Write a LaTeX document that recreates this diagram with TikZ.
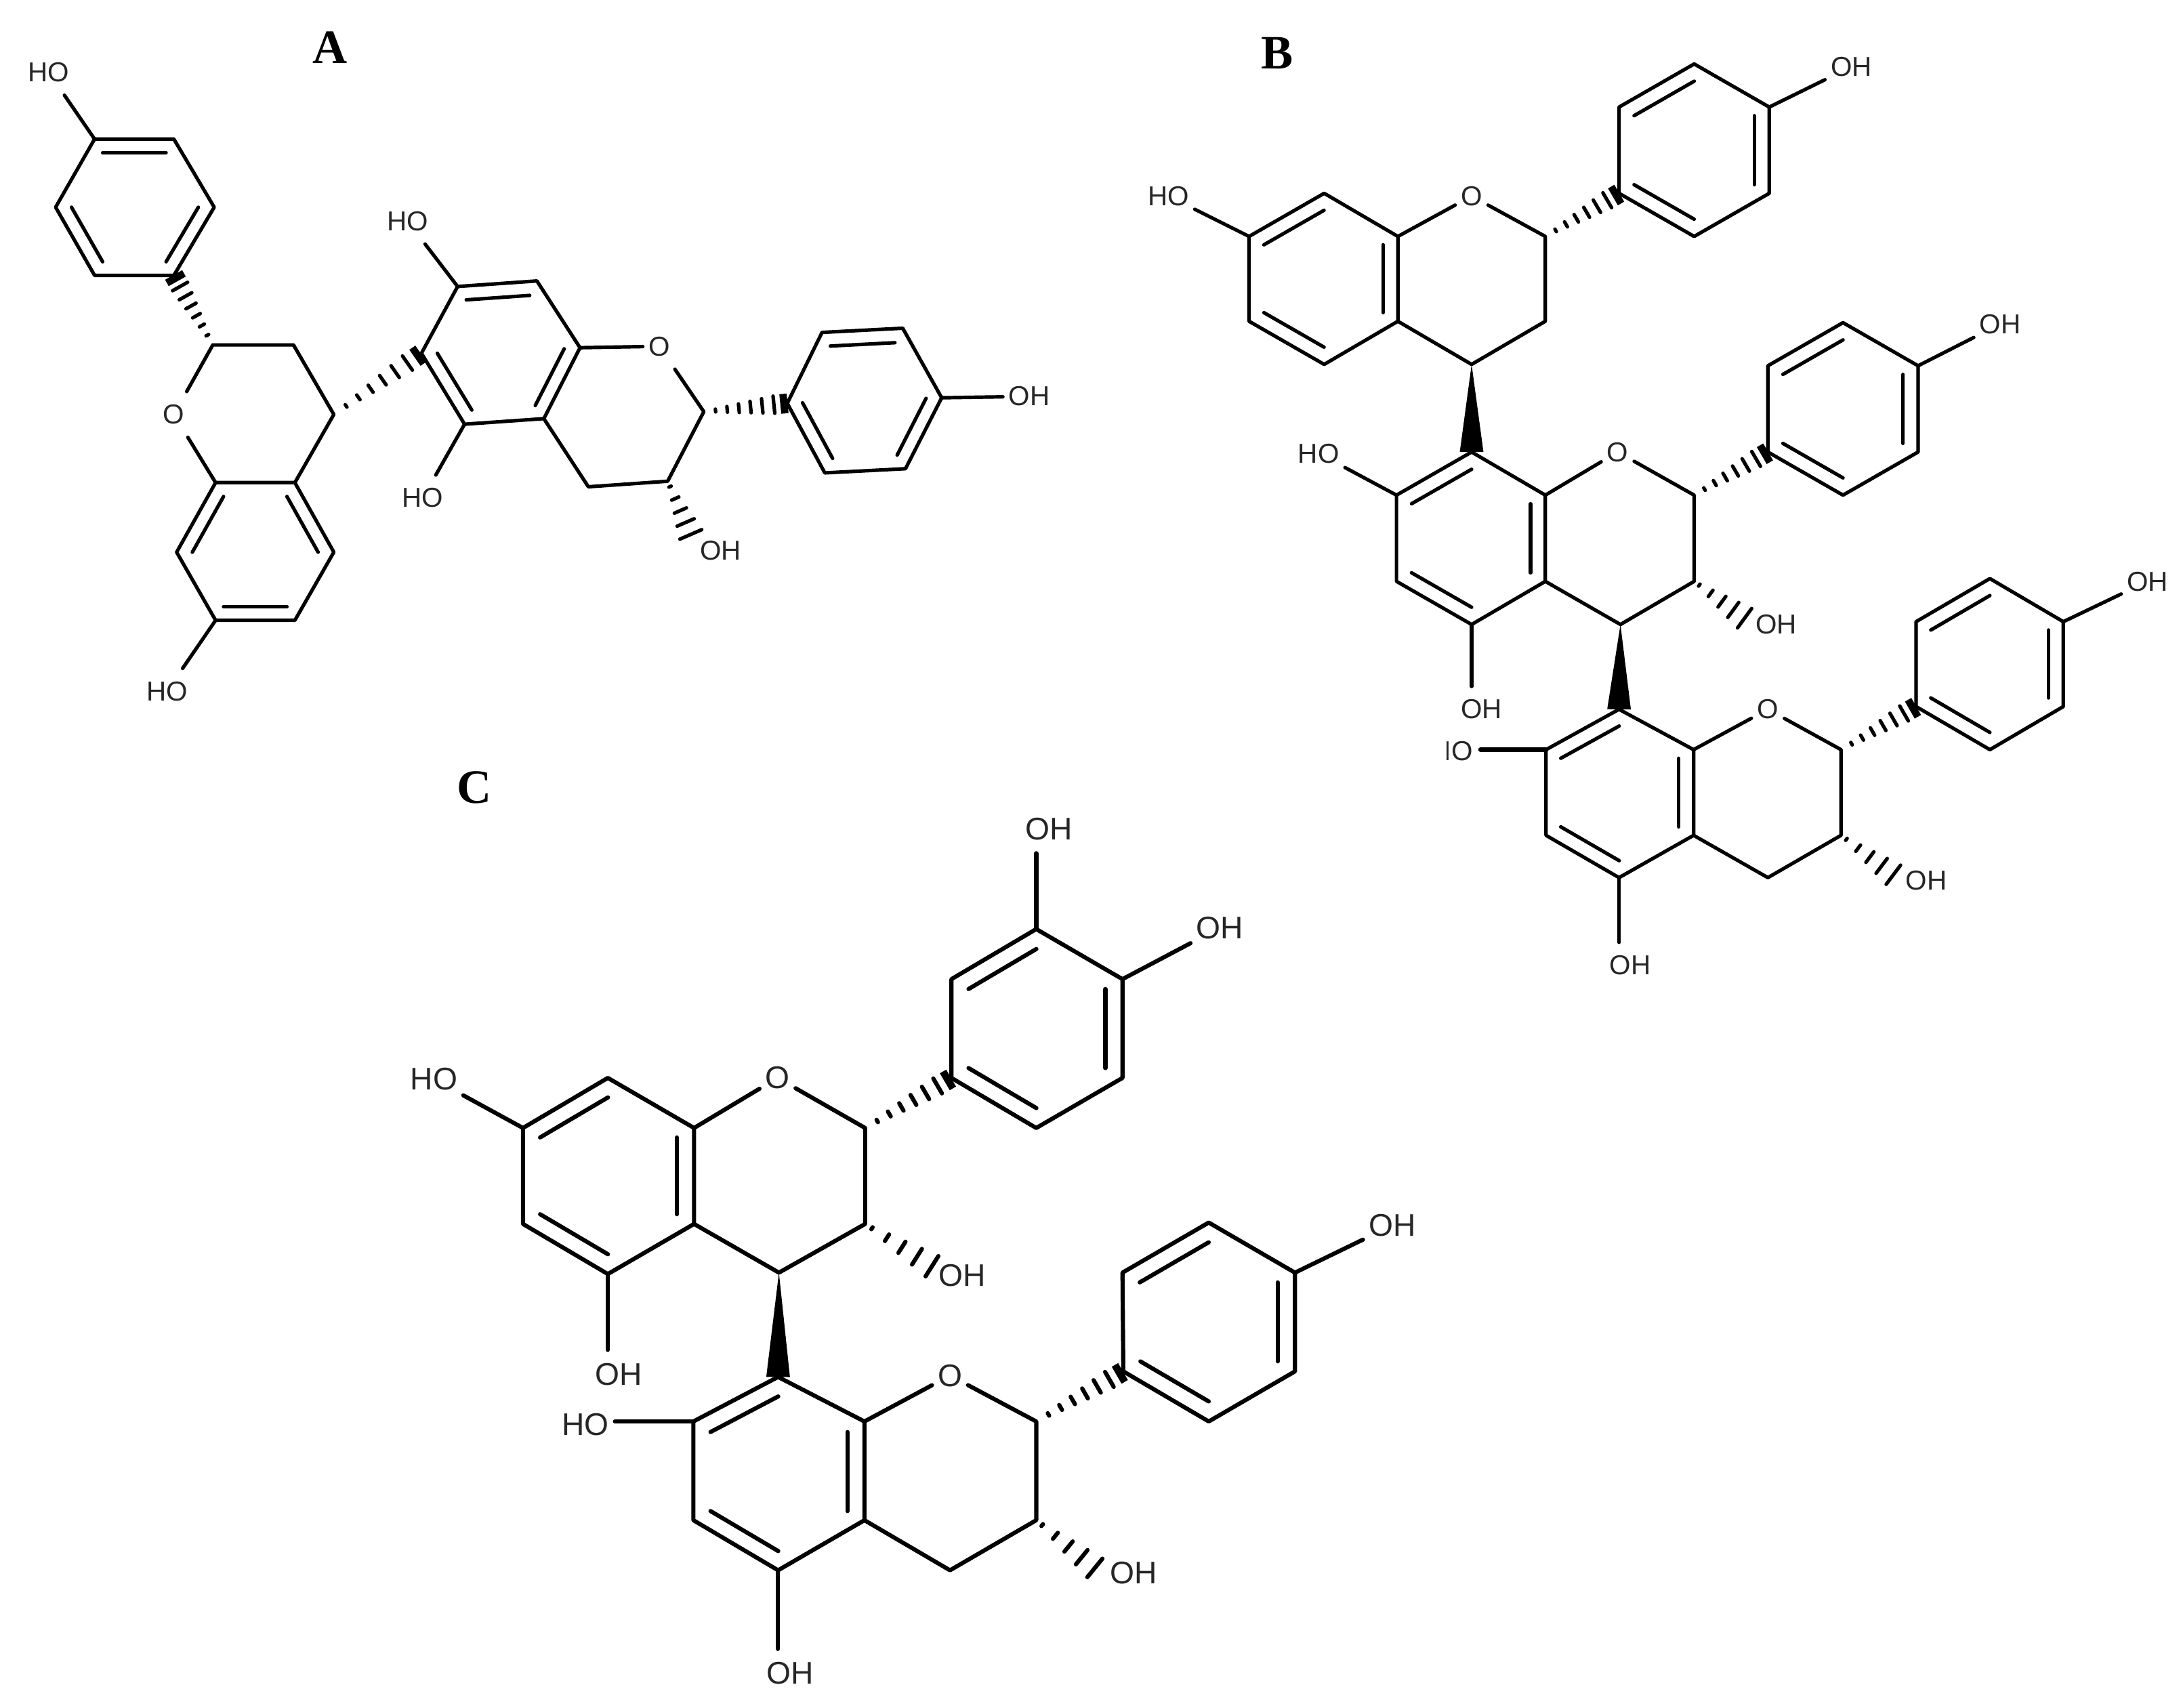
\documentclass[tikz,border=0pt]{standalone}
\usepackage{fontspec}
\setmainfont{Liberation Serif}
\setsansfont{Liberation Sans}
\usetikzlibrary{calc}

\newcommand{\dblbond}[3]{\draw[bond] ($(#1)!0.2!(#3)$) -- ($(#2)!0.2!(#3)$);}
\newcommand{\wedgebond}[2]{\fill ($(#1)$) -- ($(#2)!0.085cm!90:(#1)$) -- ($(#2)!0.085cm!-90:(#1)$) -- cycle;}
\newcommand{\hashbond}[2]{
\foreach \hpos in {0.14,0.28,0.42,0.56,0.7,0.84}{
\pgfmathsetmacro{\hw}{\hpos*2.1}
\draw[bond] ($(#1)!\hpos!(#2)!\hw pt!90:(#1)$) -- ($(#1)!\hpos!(#2)!\hw pt!-90:(#1)$);
}
\draw[line width=1.5pt] ($(#1)!0.96!(#2)!2pt!90:(#1)$) -- ($(#1)!0.96!(#2)!2pt!-90:(#1)$);
}
\newcommand{\hashoh}[2]{
\foreach \hpos in {0.1,0.32,0.54,0.76,0.98}{
\pgfmathsetmacro{\hw}{\hpos*2.5}
\draw[bond] ($(#1)!\hpos!(#2)!\hw pt!90:(#1)$) -- ($(#1)!\hpos!(#2)!\hw pt!-90:(#1)$);
}
}

\begin{document}
\begin{tikzpicture}[x=0.01cm,y=-0.01cm]
\tikzstyle{bond}=[line width=0.72pt,line join=round,line cap=round]
\tikzstyle{atom}=[font=\fontsize{5.6}{6}\selectfont\sffamily,text=black!85,inner xsep=1pt,inner ysep=2.5pt]
\tikzstyle{panel}=[font=\fontsize{9.8}{12}\selectfont\rmfamily\bfseries,inner sep=0pt]
\useasboundingbox (0,0) rectangle (1568,1228);

\node[panel] (panela) at (237,34) {A};
\node[panel] (panelb) at (918,38) {B};
\node[panel] (panelc) at (341,566) {C};

% molecule A
\coordinate (pa1) at (68,100);
\coordinate (pa2) at (125,100);
\coordinate (pa3) at (154,149);
\coordinate (pa4) at (125,198);
\coordinate (pa5) at (68,198);
\coordinate (pa6) at (40,149);
\coordinate (cpa) at (97,149);
\coordinate (ca1) at (153,248);
\coordinate (ca2) at (211,248);
\coordinate (ca3) at (240,298);
\coordinate (ca4) at (212,347);
\coordinate (ca5) at (155,347);
\coordinate (aa1) at (240,397);
\coordinate (aa2) at (212,446);
\coordinate (aa3) at (155,446);
\coordinate (aa4) at (127,397);
\coordinate (caa) at (183.5,397);
\coordinate (da1) at (329,206);
\coordinate (da2) at (386,202);
\coordinate (da3) at (417,250);
\coordinate (da4) at (391,301);
\coordinate (da5) at (334,305);
\coordinate (da6) at (303,254);
\coordinate (cda) at (360,254);
\coordinate (ea1) at (506,296);
\coordinate (ea2) at (480,346);
\coordinate (ea3) at (423,350);
\coordinate (qa1) at (566,290);
\coordinate (qa2) at (593,340);
\coordinate (qa3) at (651,337);
\coordinate (qa4) at (677,286);
\coordinate (qa5) at (649,236);
\coordinate (qa6) at (591,239);
\coordinate (cqa) at (621,288);
\coordinate (xa) at (497,385);
\node[atom] (oa1) at (125,298) {O};
\node[atom] (oa2) at (474,249) {O};
\node[atom] (hoa1) at (35,52) {HO};
\node[atom] (hoa2) at (120,497) {HO};
\node[atom] (hoa3) at (293,159) {HO};
\node[atom] (hoa4) at (304,358) {HO};
\node[atom] (oha1) at (740,285) {OH};
\node[atom] (oha2) at (518,396) {OH};

\draw[bond] (pa1) -- (pa2) -- (pa3) -- (pa4) -- (pa5) -- (pa6) -- cycle;
\draw[bond] (ca1) -- (ca2) -- (ca3) -- (ca4) -- (ca5) -- (oa1) -- (ca1);
\draw[bond] (ca4) -- (aa1) -- (aa2) -- (aa3) -- (aa4) -- (ca5);
\draw[bond] (da1) -- (da2) -- (da3) -- (da4) -- (da5) -- (da6) -- cycle;
\draw[bond] (da3) -- (oa2) -- (ea1) -- (ea2) -- (ea3) -- (da4);
\draw[bond] (qa1) -- (qa2) -- (qa3) -- (qa4) -- (qa5) -- (qa6) -- cycle;
\draw[bond] (pa1) -- (hoa1);
\draw[bond] (aa3) -- (hoa2);
\draw[bond] (da1) -- (hoa3);
\draw[bond] (da5) -- (hoa4);
\draw[bond] (qa4) -- (oha1);
\dblbond{pa1}{pa2}{cpa}
\dblbond{pa3}{pa4}{cpa}
\dblbond{pa5}{pa6}{cpa}
\dblbond{ca4}{aa1}{caa}
\dblbond{aa2}{aa3}{caa}
\dblbond{aa4}{ca5}{caa}
\dblbond{da1}{da2}{cda}
\dblbond{da3}{da4}{cda}
\dblbond{da5}{da6}{cda}
\dblbond{qa1}{qa2}{cqa}
\dblbond{qa3}{qa4}{cqa}
\dblbond{qa5}{qa6}{cqa}
\hashbond{ca1}{pa4}
\hashbond{ca3}{da6}
\hashbond{ea1}{qa1}
\hashoh{ea2}{xa}

% molecule B
\coordinate (pb1) at (1164,139);
\coordinate (pb2) at (1164,77);
\coordinate (pb3) at (1218,46);
\coordinate (pb4) at (1272,77);
\coordinate (pb5) at (1272,139);
\coordinate (pb6) at (1218,170);
\coordinate (cpb) at (1218,108);
\coordinate (bb1) at (898,170);
\coordinate (bb2) at (952,139);
\coordinate (bb3) at (1005,170);
\coordinate (bb4) at (1005,231);
\coordinate (bb5) at (952,262);
\coordinate (bb6) at (898,231);
\coordinate (cbb) at (951.5,200);
\coordinate (cb1) at (1111,170);
\coordinate (cb2) at (1111,231);
\coordinate (cb3) at (1058,262);
\coordinate (db1) at (1058,325);
\coordinate (db2) at (1111,356);
\coordinate (db3) at (1111,418);
\coordinate (db4) at (1058,449);
\coordinate (db5) at (1004,418);
\coordinate (db6) at (1004,356);
\coordinate (cdb) at (1058,387);
\coordinate (eb1) at (1218,356);
\coordinate (eb2) at (1218,418);
\coordinate (eb3) at (1165,449);
\coordinate (qb1) at (1271,325);
\coordinate (qb2) at (1271,263);
\coordinate (qb3) at (1325,232);
\coordinate (qb4) at (1379,263);
\coordinate (qb5) at (1379,325);
\coordinate (qb6) at (1325,356);
\coordinate (cqb) at (1325,294);
\coordinate (fb1) at (1164,510);
\coordinate (fb2) at (1217.6,539);
\coordinate (fb3) at (1217.6,600.6);
\coordinate (fb4) at (1164,631);
\coordinate (fb5) at (1111.5,600.6);
\coordinate (fb6) at (1111.5,539);
\coordinate (cfb) at (1164.5,570);
\coordinate (gb1) at (1323.6,539);
\coordinate (gb2) at (1323.6,600.6);
\coordinate (gb3) at (1271,631);
\coordinate (rb1) at (1377.5,508);
\coordinate (rb2) at (1377.5,447);
\coordinate (rb3) at (1430.6,416);
\coordinate (rb4) at (1483.4,447);
\coordinate (rb5) at (1483.4,508);
\coordinate (rb6) at (1430.6,539);
\coordinate (crb) at (1430.6,477);
\coordinate (xb1) at (1255,445);
\coordinate (xb2) at (1362,629.5);
\coordinate (zb) at (1064.5,539);
\node[atom] (ob1) at (1058,141) {O};
\node[atom] (ob2) at (1163,325) {O};
\node[atom] (ob3) at (1271,510) {O};
\node[atom] (hob1) at (840,141) {HO};
\node[atom] (hob2) at (948,326) {HO};
\begin{scope}
\clip (1040,520) rectangle (1080,560);
\node[atom] (hob3) at (1044,540) {HO};
\end{scope}
\node[atom] (ohb1) at (1331,48) {OH};
\node[atom] (ohb2) at (1438,233) {OH};
\node[atom] (ohb3) at (1065,510) {OH};
\node[atom] (ohb4) at (1277,449) {OH};
\node[atom] (ohb5) at (1544,418) {OH};
\node[atom] (ohb6) at (1172,694) {OH};
\node[atom] (ohb7) at (1385,633) {OH};

\draw[bond] (pb1) -- (pb2) -- (pb3) -- (pb4) -- (pb5) -- (pb6) -- cycle;
\draw[bond] (bb1) -- (bb2) -- (bb3) -- (bb4) -- (bb5) -- (bb6) -- cycle;
\draw[bond] (bb3) -- (ob1) -- (cb1) -- (cb2) -- (cb3) -- (bb4);
\draw[bond] (db1) -- (db2) -- (db3) -- (db4) -- (db5) -- (db6) -- cycle;
\draw[bond] (db2) -- (ob2) -- (eb1) -- (eb2) -- (eb3) -- (db3);
\draw[bond] (qb1) -- (qb2) -- (qb3) -- (qb4) -- (qb5) -- (qb6) -- cycle;
\draw[bond] (fb1) -- (fb2) -- (fb3) -- (fb4) -- (fb5) -- (fb6) -- cycle;
\draw[bond] (fb2) -- (ob3) -- (gb1) -- (gb2) -- (gb3) -- (fb3);
\draw[bond] (rb1) -- (rb2) -- (rb3) -- (rb4) -- (rb5) -- (rb6) -- cycle;
\draw[bond] (bb1) -- (hob1);
\draw[bond] (pb4) -- (ohb1);
\draw[bond] (db6) -- (hob2);
\draw[bond] (qb4) -- (ohb2);
\draw[bond] (db4) -- (db4 |- ohb3.north);
\draw[bond] (rb4) -- (ohb5);
\draw[bond] (fb4) -- (fb4 |- ohb6.north);
\draw[bond,line width=1pt] (fb6) -- (zb);
\dblbond{pb2}{pb3}{cpb}
\dblbond{pb4}{pb5}{cpb}
\dblbond{pb6}{pb1}{cpb}
\dblbond{bb1}{bb2}{cbb}
\dblbond{bb3}{bb4}{cbb}
\dblbond{bb5}{bb6}{cbb}
\dblbond{db1}{db6}{cdb}
\dblbond{db2}{db3}{cdb}
\dblbond{db4}{db5}{cdb}
\dblbond{qb2}{qb3}{cqb}
\dblbond{qb4}{qb5}{cqb}
\dblbond{qb6}{qb1}{cqb}
\dblbond{fb1}{fb6}{cfb}
\dblbond{fb2}{fb3}{cfb}
\dblbond{fb4}{fb5}{cfb}
\dblbond{rb2}{rb3}{crb}
\dblbond{rb4}{rb5}{crb}
\dblbond{rb6}{rb1}{crb}
\hashbond{cb1}{pb1}
\hashbond{eb1}{qb1}
\hashbond{gb1}{rb1}
\hashoh{eb2}{xb1}
\hashoh{gb2}{xb2}
\wedgebond{cb3}{db1}
\wedgebond{eb3}{fb1}

% molecule C
\begin{scope}
\tikzstyle{bond}=[line width=0.85pt,line join=round,line cap=round]
\tikzstyle{atom}=[font=\fontsize{6.4}{7}\selectfont\sffamily,text=black!85,inner xsep=1pt,inner ysep=2.5pt]
\coordinate (ac1) at (376,811);
\coordinate (ac2) at (437,775);
\coordinate (ac3) at (499,811);
\coordinate (ac4) at (499,880);
\coordinate (ac5) at (437,916);
\coordinate (ac6) at (376,880);
\coordinate (cac) at (437.5,845);
\coordinate (bc1) at (622,811);
\coordinate (bc2) at (622,880);
\coordinate (bc3) at (560,915);
\coordinate (pc1) at (684,775);
\coordinate (pc2) at (684,704);
\coordinate (pc3) at (745,668);
\coordinate (pc4) at (807,704);
\coordinate (pc5) at (807,775);
\coordinate (pc6) at (745,811);
\coordinate (cpc) at (745.5,739.5);
\coordinate (dc1) at (559.4,990);
\coordinate (dc2) at (621.5,1022);
\coordinate (dc3) at (621.5,1093);
\coordinate (dc4) at (559.4,1129);
\coordinate (dc5) at (498.5,1093);
\coordinate (dc6) at (498.5,1022);
\coordinate (cdc) at (560,1060);
\coordinate (ec1) at (745,1022);
\coordinate (ec2) at (745,1093);
\coordinate (ec3) at (683,1129);
\coordinate (qc1) at (807.6,986);
\coordinate (qc2) at (807,915);
\coordinate (qc3) at (869,879);
\coordinate (qc4) at (931,915);
\coordinate (qc5) at (931,986);
\coordinate (qc6) at (869,1022);
\coordinate (cqc) at (869,950);
\coordinate (xc1) at (671,911);
\coordinate (xc2) at (788,1128);
\node[atom] (oc1) at (559,775) {O};
\node[atom] (oc2) at (683,989) {O};
\node[atom] (hoc1) at (312,776) {HO};
\node[atom] (hoc2) at (421,1024) {HO};
\node[atom] (ohc1) at (445,988) {OH};
\node[atom] (ohc2) at (692,917) {OH};
\node[atom] (ohc3) at (754,596) {OH};
\node[atom] (ohc4) at (877,667) {OH};
\node[atom] (ohc5) at (568,1203) {OH};
\node[atom] (ohc6) at (815,1131) {OH};
\node[atom] (ohc7) at (1001,881) {OH};

\draw[bond] (ac1) -- (ac2) -- (ac3) -- (ac4) -- (ac5) -- (ac6) -- cycle;
\draw[bond] (ac3) -- (oc1) -- (bc1) -- (bc2) -- (bc3) -- (ac4);
\draw[bond] (pc1) -- (pc2) -- (pc3) -- (pc4) -- (pc5) -- (pc6) -- cycle;
\draw[bond] (dc1) -- (dc2) -- (dc3) -- (dc4) -- (dc5) -- (dc6) -- cycle;
\draw[bond] (dc2) -- (oc2) -- (ec1) -- (ec2) -- (ec3) -- (dc3);
\draw[bond] (qc1) -- (qc2) -- (qc3) -- (qc4) -- (qc5) -- (qc6) -- cycle;
\draw[bond] (ac1) -- (hoc1);
\draw[bond] (ac5) -- (ac5 |- ohc1.north);
\draw[bond] (pc3) -- (pc3 |- ohc3.south);
\draw[bond] (pc4) -- (ohc4);
\draw[bond] (dc6) -- (dc6 -| hoc2.east);
\draw[bond] (dc4) -- (dc4 |- ohc5.north);
\draw[bond] (qc4) -- (ohc7);
\dblbond{ac1}{ac2}{cac}
\dblbond{ac3}{ac4}{cac}
\dblbond{ac5}{ac6}{cac}
\dblbond{pc2}{pc3}{cpc}
\dblbond{pc4}{pc5}{cpc}
\dblbond{pc6}{pc1}{cpc}
\dblbond{dc1}{dc6}{cdc}
\dblbond{dc2}{dc3}{cdc}
\dblbond{dc4}{dc5}{cdc}
\dblbond{qc2}{qc3}{cqc}
\dblbond{qc4}{qc5}{cqc}
\dblbond{qc6}{qc1}{cqc}
\hashbond{bc1}{pc1}
\hashbond{ec1}{qc1}
\hashoh{bc2}{xc1}
\hashoh{ec2}{xc2}
\wedgebond{bc3}{dc1}
\end{scope}
\end{tikzpicture}
\end{document}
